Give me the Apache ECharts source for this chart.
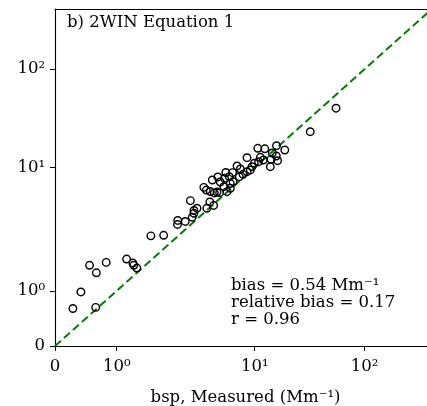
<!DOCTYPE html>
<html>
<head>
<meta charset="utf-8">
<script src="https://cdn.jsdelivr.net/npm/echarts@6/dist/echarts.min.js"></script>
<style>
html,body{margin:0;padding:0;background:#fff;}
#c{width:427px;height:406px;}
</style>
</head>
<body>
<div id="c"></div>
<script>
// ---- data (values in Mm^-1) ----
const measured = [
  0.29, 0.66, 0.42, 0.56, 0.67, 0.83, 1.18, 1.31, 1.33, 1.40,
  1.77, 2.19, 2.76, 2.77, 3.14, 3.42, 3.53, 3.63, 3.82, 3.63,
  4.50, 4.73, 5.04, 4.28, 4.46, 4.77, 5.10, 5.33, 5.41, 5.57,
  5.63, 5.97, 6.30, 6.66, 6.05, 6.18, 6.55, 6.92, 7.45, 7.74,
  8.23, 8.80, 9.30, 8.80, 9.56, 9.94, 10.85, 11.25, 10.67, 12.36,
  13.87, 14.07, 15.72, 16.16, 15.79, 18.78, 32.0, 54.9, 6.97, 6.66,
  11.97, 14.45, 7.87, 4.93
];
const predicted = [
  0.68, 0.70, 0.98, 1.61, 1.40, 1.70, 1.81, 1.68, 1.61, 1.53,
  2.79, 2.82, 3.45, 3.72, 3.65, 5.38, 3.95, 4.48, 4.67, 4.25,
  4.67, 5.25, 4.92, 6.90, 6.56, 6.38, 6.21, 6.32, 8.37, 6.24,
  7.62, 6.98, 6.36, 7.41, 8.17, 9.10, 8.41, 9.07, 10.34, 8.41,
  8.80, 9.24, 9.54, 12.56, 10.17, 11.02, 11.44, 12.68, 15.65, 15.47,
  10.17, 12.10, 13.07, 11.71, 16.64, 15.04, 23.1, 40.0, 7.66, 6.78,
  11.90, 14.02, 9.71, 7.91
];
const oneToOne = [0, 1, 10, 100, 1000];
const tickValues = [0, 1, 10, 100];
const tickLabels = ['0', '10\u2070', '10\u00B9', '10\u00B2'];
const titleText = 'b) 2WIN Equation 1';
const statLines = ['bias = 0.54 Mm\u207B\u00B9', 'relative bias = 0.17', 'r = 0.96'];
const xName = 'bsp, Measured (Mm\u207B\u00B9)';

// ---- axis transform (linear below 1, log-like above) ----
const LIN = 0.447, DEC2 = 0.797;
function T(v) {
  if (v <= 1) return LIN * v;
  if (v <= 10) return LIN + Math.log10(v);
  return LIN + 1 + DEC2 * (Math.log10(v) - 1);
}
const tickPos = tickValues.map(T);
function labelFor(val) {
  let best = 0, bd = Infinity;
  tickPos.forEach((p, i) => { const d = Math.abs(p - val); if (d < bd) { bd = d; best = i; } });
  return tickLabels[best];
}

const FONT = 'DejaVu Serif';
const FS = 16.5;
const X_MAX = (436 - 55) / 138;
const Y_MAX = (346 - 9) / 123.4;

const chart = echarts.init(document.getElementById('c'), null, {renderer: 'canvas', width: 427, height: 406});
chart.setOption({
  animation: false,
  backgroundColor: '#fff',
  grid: {left: 55, right: -9, top: 9, bottom: 60, containLabel: false, outerBoundsMode: 'none'},
  xAxis: [{
    type: 'value', min: 0, max: X_MAX, position: 'bottom',
    name: xName, nameLocation: 'middle', nameGap: 43,
    nameTextStyle: {fontFamily: FONT, fontSize: FS, color: '#000'},
    axisLine: {show: true, onZero: false, lineStyle: {color: '#000', width: 1.1}},
    axisTick: {show: true, inside: false, length: 5, customValues: tickPos, lineStyle: {color: '#000', width: 1}},
    axisLabel: {show: true, margin: 12, customValues: tickPos, formatter: labelFor,
      fontFamily: FONT, fontSize: FS, color: '#000'},
    splitLine: {show: false}
  }, {
    type: 'value', min: 0, max: X_MAX, position: 'top',
    axisLine: {show: true, onZero: false, lineStyle: {color: '#000', width: 1.1}},
    axisTick: {show: false}, axisLabel: {show: false}, splitLine: {show: false}
  }],
  yAxis: [{
    type: 'value', min: 0, max: Y_MAX,
    axisLine: {show: true, onZero: false, lineStyle: {color: '#000', width: 1.1}},
    axisTick: {show: true, inside: false, length: 5, customValues: tickPos, lineStyle: {color: '#000', width: 1}},
    axisLabel: {show: true, margin: 10, customValues: tickPos, formatter: labelFor,
      fontFamily: FONT, fontSize: FS, color: '#000'},
    splitLine: {show: false}
  }],
  series: [{
    type: 'line',
    data: oneToOne.map(v => [T(v), T(v)]),
    showSymbol: false, symbol: 'none',
    lineStyle: {color: '#008000', width: 2, type: [8, 4]},
    z: 1, silent: true
  }, {
    type: 'scatter',
    data: measured.map((m, i) => [T(m), T(predicted[i])]),
    symbol: 'circle', symbolSize: 7.5,
    itemStyle: {color: 'rgba(0,0,0,0)', borderColor: '#000', borderWidth: 1.4, opacity: 1},
    z: 2
  }],
  graphic: [{
    type: 'text', left: 67, top: 14,
    style: {text: titleText, fontFamily: FONT, fontSize: FS, fill: '#000'}
  }, {
    type: 'text', left: 231, top: 277,
    style: {text: statLines.join('\n'), fontFamily: FONT, fontSize: FS, lineHeight: 17, fill: '#000'}
  }]
});
</script>
</body>
</html>
